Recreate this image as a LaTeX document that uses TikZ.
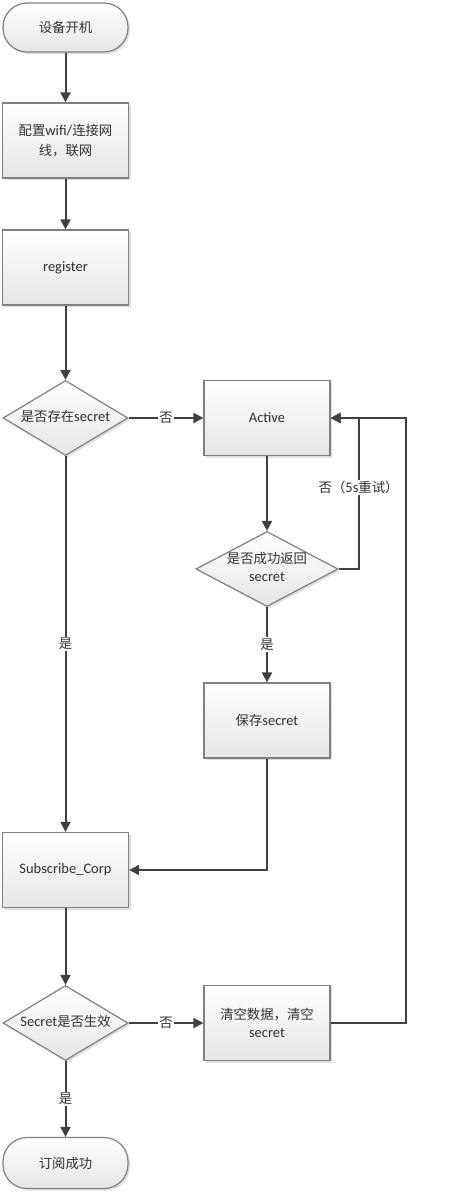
\documentclass[tikz,border=0pt]{standalone}
\usepackage{fontspec}
\setmainfont{Carlito}
\newfontfamily\cjk[Scale=0.92]{Noto Sans CJK SC}
\usetikzlibrary{shapes.geometric,shadows,arrows.meta}
\newcommand{\zh}[1]{{\cjk #1}}
\newcommand{\dtxt}[1]{\makebox[0pt]{\raisebox{-0.25em}{\begin{tabular}{@{}c@{}}#1\end{tabular}}}}
\definecolor{linegray}{HTML}{404040}
\definecolor{boxgray}{HTML}{808080}
\definecolor{txtgray}{HTML}{303030}
\tikzset{
  base/.style={draw=boxgray, line width=1.2pt, top color=white, bottom color=gray!20,
    drop shadow={shadow xshift=2pt, shadow yshift=-2pt, opacity=0.25, fill=gray},
    text=txtgray, font=\fontsize{14.5}{17.5}\selectfont, align=center},
  term/.style={base, rectangle, rounded corners=24pt, minimum width=125pt, minimum height=49pt},
  proc/.style={base, rectangle, minimum width=126pt, minimum height=75pt},
  deci/.style={base, diamond, inner sep=0pt, text height=0pt, text depth=0pt,
    minimum width=125pt, minimum height=75pt},
  arr/.style={draw=linegray, line width=2pt, -{Triangle[length=10pt,width=10pt]}},
  lbl/.style={fill=white, inner sep=1.5pt, text=txtgray, font=\fontsize{14.5}{17.5}\selectfont}
}
\begin{document}
\begin{tikzpicture}[x=1pt, y=-1pt]
    \useasboundingbox (0,0) rectangle (469,1193);

    % 左列
    \node[term] (start) at (65.5, 27.5) {\zh{设备开机}};
    \node[proc] (cfg) at (65.5, 140.5) {\zh{配置}wifi/\zh{连接网}\\[3pt]\zh{线，联网}};
    \node[proc] (reg) at (65.5, 267.5) {register};
    \node[deci] (hasSec) at (65.5, 418) {\dtxt{\zh{是否存在}secret}};
    \node[proc] (sub) at (65.5, 870) {Subscribe\_Corp};
    \node[deci] (valid) at (65.5, 1023) {\dtxt{Secret\zh{是否生效}}};
    \node[term, minimum height=51pt] (done) at (65.5, 1163) {\zh{订阅成功}};

    % 右列
    \node[proc] (act) at (267, 418) {Active};
    \node[deci, minimum width=142pt] (ret) at (267, 569) {\dtxt{\zh{是否成功返回}\\secret}};
    \node[proc] (save) at (267, 720.5) {\zh{保存}secret};
    \node[proc] (clr) at (267, 1023) {\zh{清空数据，清空}\\secret};

    % 主流程
    \draw[arr] (start) -- (cfg);
    \draw[arr] (cfg) -- (reg);
    \draw[arr] (reg) -- (hasSec);
    \draw[arr] (hasSec) -- node[lbl] {\zh{否}} (act);
    \draw[arr] (hasSec) -- node[lbl] {\zh{是}} (sub);
    \draw[arr] (sub) -- (valid);
    \draw[arr] (valid) -- node[lbl] {\zh{是}} (done);
    \draw[arr] (valid) -- node[lbl] {\zh{否}} (clr);

    % 激活分支
    \draw[arr] (act) -- (ret);
    \draw[arr] (ret) -- node[lbl] {\zh{是}} (save);
    \draw[arr] (save.south) |- (sub.east);

    % 重试回路
    \draw[arr] (ret.east) -- ++(20,0) |- node[lbl, pos=0.27] {\zh{否（}5s\zh{重试）}} (act.east);
    \draw[arr] (clr.east) -- ++(75,0) |- (act.east);
\end{tikzpicture}
\end{document}
